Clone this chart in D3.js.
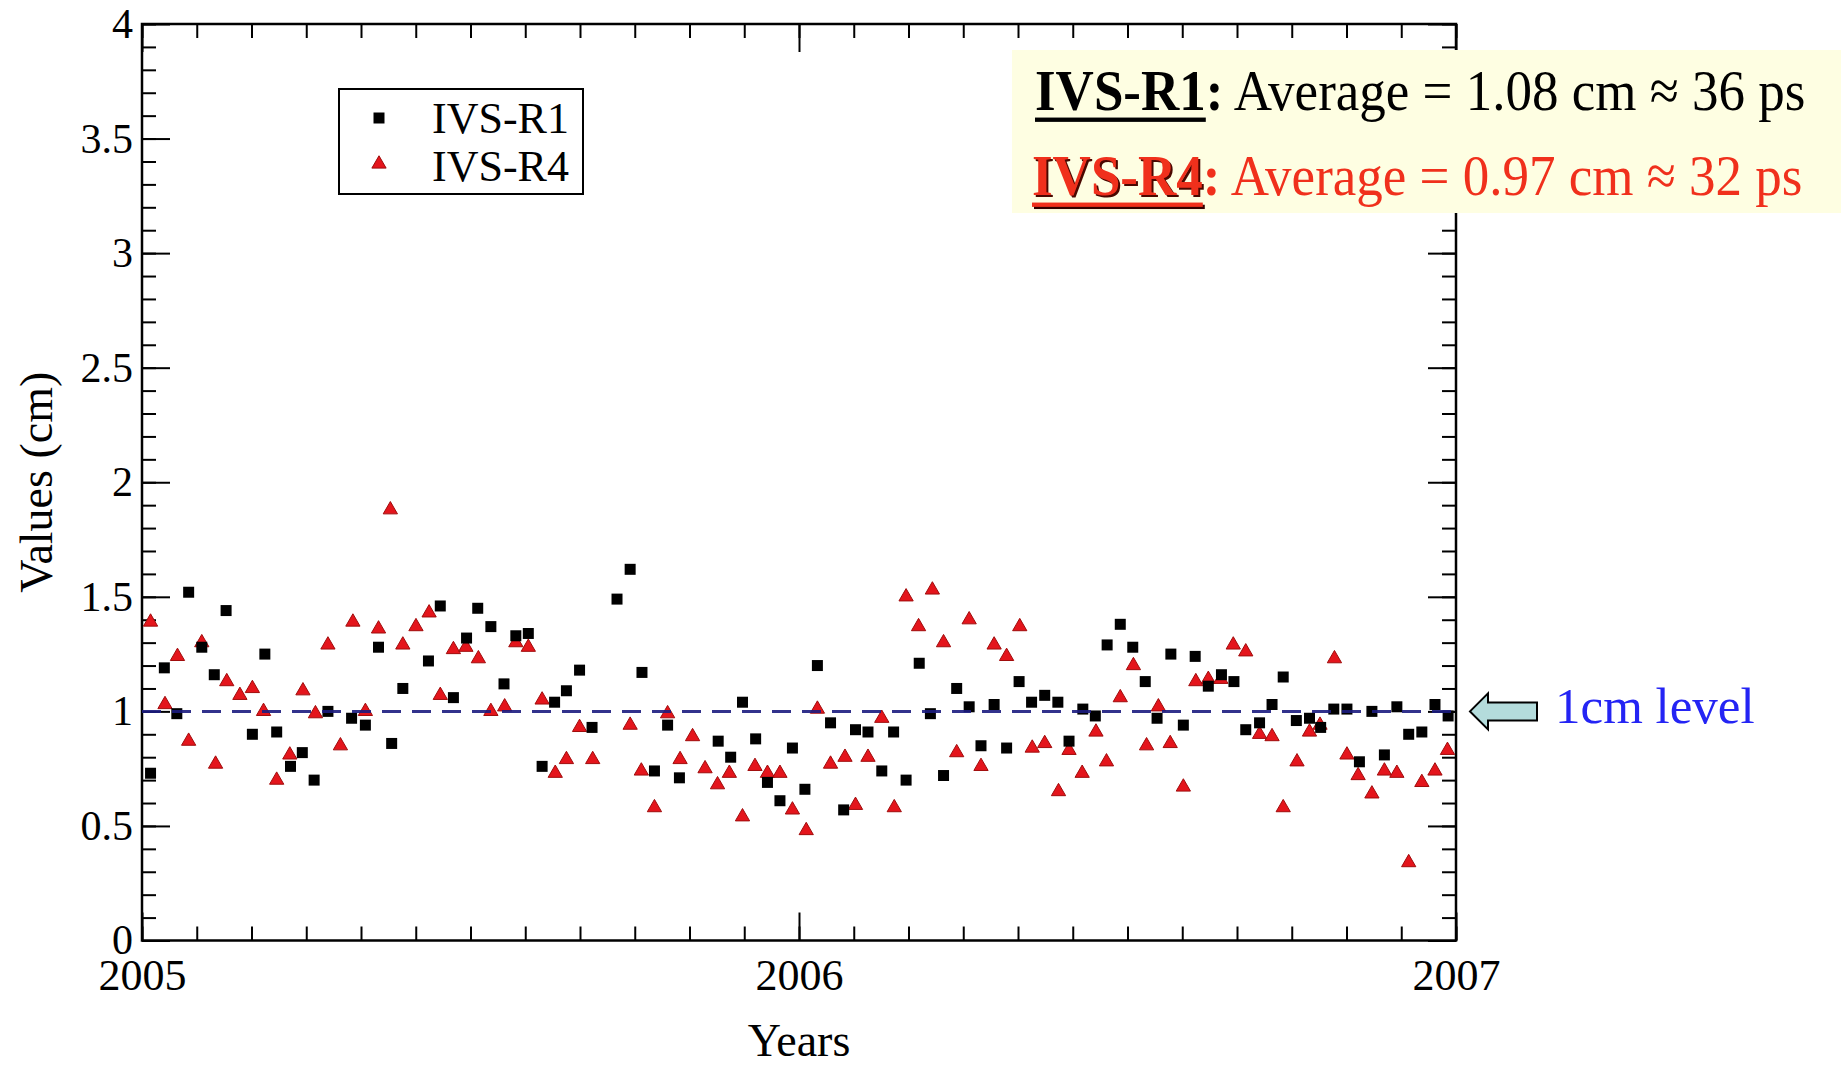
<!DOCTYPE html>
<html>
<head>
<meta charset="utf-8">
<script src="https://cdnjs.cloudflare.com/ajax/libs/d3/7.8.5/d3.min.js"></script>
<style>
  body { margin: 0; background: #fff; }
  text { font-family: "Liberation Serif", "Times New Roman", serif; }
</style>
</head>
<body>
<div id="chart"></div>
<script>
// series (decimal year, value in cm)
var r1Year = [2005.013, 2005.034, 2005.053, 2005.071, 2005.091, 2005.110, 2005.128, 2005.168, 2005.187, 2005.205,
  2005.226, 2005.244, 2005.262, 2005.283, 2005.319, 2005.340, 2005.360, 2005.380, 2005.397, 2005.436,
  2005.454, 2005.474, 2005.494, 2005.511, 2005.531, 2005.551, 2005.569, 2005.588, 2005.609, 2005.628,
  2005.646, 2005.666, 2005.685, 2005.723, 2005.743, 2005.761, 2005.780, 2005.800, 2005.818, 2005.877,
  2005.896, 2005.914, 2005.934, 2005.952, 2005.971, 2005.990, 2006.009, 2006.028, 2006.048, 2006.068,
  2006.086, 2006.105, 2006.126, 2006.144, 2006.163, 2006.183, 2006.200, 2006.220, 2006.240, 2006.259,
  2006.277, 2006.297, 2006.316, 2006.335, 2006.354, 2006.374, 2006.394, 2006.411, 2006.432, 2006.451,
  2006.469, 2006.489, 2006.508, 2006.527, 2006.545, 2006.566, 2006.585, 2006.603, 2006.623, 2006.643,
  2006.662, 2006.680, 2006.701, 2006.720, 2006.737, 2006.757, 2006.777, 2006.794, 2006.814, 2006.834,
  2006.853, 2006.872, 2006.891, 2006.910, 2006.928, 2006.948, 2006.968, 2006.988];
var r1Value = [0.73, 1.19, 0.99, 1.52, 1.28, 1.16, 1.44, 0.90, 1.25, 0.91,
  0.76, 0.82, 0.70, 1.00, 0.97, 0.94, 1.28, 0.86, 1.10, 1.22,
  1.46, 1.06, 1.32, 1.45, 1.37, 1.12, 1.33, 1.34, 0.76, 1.04,
  1.09, 1.18, 0.93, 1.49, 1.62, 1.17, 0.74, 0.94, 0.71, 0.87,
  0.80, 1.04, 0.88, 0.69, 0.61, 0.84, 0.66, 1.20, 0.95, 0.57,
  0.92, 0.91, 0.74, 0.91, 0.70, 1.21, 0.99, 0.72, 1.10, 1.02,
  0.85, 1.03, 0.84, 1.13, 1.04, 1.07, 1.04, 0.87, 1.01, 0.98,
  1.29, 1.38, 1.28, 1.13, 0.97, 1.25, 0.94, 1.24, 1.11, 1.16,
  1.13, 0.92, 0.95, 1.03, 1.15, 0.96, 0.97, 0.93, 1.01, 1.01,
  0.78, 1.00, 0.81, 1.02, 0.90, 0.91, 1.03, 0.98];

var r4Year = [2005.013, 2005.035, 2005.054, 2005.071, 2005.091, 2005.112, 2005.129, 2005.149, 2005.168, 2005.185,
  2005.205, 2005.225, 2005.245, 2005.264, 2005.283, 2005.302, 2005.321, 2005.340, 2005.360, 2005.378,
  2005.397, 2005.417, 2005.437, 2005.454, 2005.474, 2005.493, 2005.512, 2005.531, 2005.552, 2005.569,
  2005.588, 2005.609, 2005.629, 2005.646, 2005.666, 2005.686, 2005.743, 2005.760, 2005.780, 2005.800,
  2005.819, 2005.838, 2005.857, 2005.876, 2005.894, 2005.914, 2005.933, 2005.952, 2005.971, 2005.990,
  2006.011, 2006.028, 2006.048, 2006.070, 2006.086, 2006.105, 2006.126, 2006.145, 2006.163, 2006.182,
  2006.203, 2006.220, 2006.240, 2006.259, 2006.277, 2006.297, 2006.316, 2006.336, 2006.355, 2006.374,
  2006.395, 2006.411, 2006.431, 2006.452, 2006.468, 2006.489, 2006.509, 2006.529, 2006.547, 2006.565,
  2006.585, 2006.604, 2006.623, 2006.642, 2006.661, 2006.680, 2006.701, 2006.720, 2006.737, 2006.758,
  2006.777, 2006.793, 2006.815, 2006.834, 2006.851, 2006.872, 2006.891, 2006.910, 2006.928, 2006.948,
  2006.968, 2006.987];
var r4Value = [1.39, 1.03, 1.24, 0.87, 1.30, 0.77, 1.13, 1.07, 1.10, 1.00,
  0.70, 0.81, 1.09, 0.99, 1.29, 0.85, 1.39, 1.00, 1.36, 1.88,
  1.29, 1.37, 1.43, 1.07, 1.27, 1.28, 1.23, 1.00, 1.02, 1.30,
  1.28, 1.05, 0.73, 0.79, 0.93, 0.79, 0.94, 0.74, 0.58, 0.99,
  0.79, 0.89, 0.75, 0.68, 0.73, 0.54, 0.76, 0.73, 0.73, 0.57,
  0.48, 1.01, 0.77, 0.80, 0.59, 0.80, 0.97, 0.58, 1.50, 1.37,
  1.53, 1.30, 0.82, 1.40, 0.76, 1.29, 1.24, 1.37, 0.84, 0.86,
  0.65, 0.83, 0.73, 0.91, 0.78, 1.06, 1.20, 0.85, 1.02, 0.86,
  0.67, 1.13, 1.14, 1.14, 1.29, 1.26, 0.90, 0.89, 0.58, 0.78,
  0.91, 0.94, 1.23, 0.81, 0.72, 0.64, 0.74, 0.73, 0.34, 0.69,
  0.74, 0.83];

var seriesNames = ["IVS-R1", "IVS-R4"];
var seriesAverage = [1.08, 0.97];   // cm
var seriesPs = [36, 32];            // ps
var levelValue = 1;                 // 1cm reference line

var xMajorTicks = [2005, 2006, 2007];
var yMajorTicks = [0, 0.5, 1, 1.5, 2, 2.5, 3, 3.5, 4];

var svgWidth = 1841;
var svgHeight = 1069;

var chartMargin = { top: 24, right: 385, bottom: 128.5, left: 142 };
var chartWidth = svgWidth - chartMargin.left - chartMargin.right;
var chartHeight = svgHeight - chartMargin.top - chartMargin.bottom;

var svg = d3.select("#chart")
  .append("svg")
  .attr("width", svgWidth)
  .attr("height", svgHeight);

svg.append("rect").attr("width", svgWidth).attr("height", svgHeight).attr("fill", "#fff");

var chartGroup = svg.append("g")
  .attr("transform", `translate(${chartMargin.left},${chartMargin.top})`);

var xScale = d3.scaleLinear().domain([2005, 2007]).range([0, chartWidth]);
var yScale = d3.scaleLinear().domain([0, 4]).range([chartHeight, 0]);

// monthly minor ticks, 0.1 minor ticks
var xMinorTicks = d3.range(0, 25).map(i => 2005 + i / 12);
var yMinorTicks = d3.range(0, 41).map(i => i / 10);

function styleAxis(g) {
  g.select(".domain").remove();
  g.selectAll(".tick line").attr("stroke", "#000").attr("stroke-width", 2);
}

// bottom
chartGroup.append("g")
  .attr("transform", `translate(0,${chartHeight})`)
  .call(d3.axisBottom(xScale).tickValues(xMinorTicks).tickSize(-14).tickFormat(""))
  .call(styleAxis);
var xAxis = chartGroup.append("g")
  .attr("transform", `translate(0,${chartHeight})`)
  .call(d3.axisBottom(xScale).tickValues(xMajorTicks).tickSize(-28).tickFormat(d3.format("d")))
  .call(styleAxis);
xAxis.selectAll("text")
  .attr("y", 49)
  .attr("dy", null)
  .attr("font-size", 44)
  .attr("fill", "#000");

// top
chartGroup.append("g")
  .call(d3.axisTop(xScale).tickValues(xMinorTicks).tickSize(-14).tickFormat(""))
  .call(styleAxis);
chartGroup.append("g")
  .call(d3.axisTop(xScale).tickValues(xMajorTicks).tickSize(-28).tickFormat(""))
  .call(styleAxis);

// left
chartGroup.append("g")
  .call(d3.axisLeft(yScale).tickValues(yMinorTicks).tickSize(-14).tickFormat(""))
  .call(styleAxis);
var yAxis = chartGroup.append("g")
  .call(d3.axisLeft(yScale).tickValues(yMajorTicks).tickSize(-28).tickFormat(d3.format("")))
  .call(styleAxis);
yAxis.selectAll("text")
  .attr("x", -9)
  .attr("font-size", 42)
  .attr("fill", "#000");

// right
chartGroup.append("g")
  .attr("transform", `translate(${chartWidth},0)`)
  .call(d3.axisRight(yScale).tickValues(yMinorTicks).tickSize(-14).tickFormat(""))
  .call(styleAxis);
chartGroup.append("g")
  .attr("transform", `translate(${chartWidth},0)`)
  .call(d3.axisRight(yScale).tickValues(yMajorTicks).tickSize(-28).tickFormat(""))
  .call(styleAxis);

chartGroup.append("rect")
  .attr("width", chartWidth)
  .attr("height", chartHeight)
  .attr("fill", "none")
  .attr("stroke", "#000")
  .attr("stroke-width", 2.5);

// points
var r1Data = r1Year.map((y, i) => ({ year: y, value: r1Value[i] }));
var r4Data = r4Year.map((y, i) => ({ year: y, value: r4Value[i] }));

var squareSym = d3.symbol().type(d3.symbolSquare).size(121);
var triangleSym = d3.symbol().type(d3.symbolTriangle).size(88);

chartGroup.selectAll(".r4")
  .data(r4Data)
  .enter()
  .append("path")
  .attr("class", "r4")
  .attr("d", triangleSym)
  .attr("transform", d => `translate(${xScale(d.year)},${yScale(d.value)})`)
  .attr("fill", "#e4151c")
  .attr("stroke", "#a00c0c")
  .attr("stroke-width", 1);

chartGroup.selectAll(".r1")
  .data(r1Data)
  .enter()
  .append("path")
  .attr("class", "r1")
  .attr("d", squareSym)
  .attr("transform", d => `translate(${xScale(d.year)},${yScale(d.value)})`)
  .attr("fill", "#000");

// 1 cm dashed line
chartGroup.append("line")
  .attr("x1", 0)
  .attr("x2", chartWidth)
  .attr("y1", yScale(levelValue))
  .attr("y2", yScale(levelValue))
  .attr("stroke", "#1c1c80")
  .attr("stroke-width", 3)
  .attr("stroke-opacity", 0.9)
  .attr("stroke-dasharray", "19,11");

// axis titles
svg.append("text")
  .attr("x", chartMargin.left + chartWidth / 2)
  .attr("y", 1056)
  .attr("text-anchor", "middle")
  .attr("font-size", 46)
  .text("Years");

svg.append("text")
  .attr("transform", `translate(52,${chartMargin.top + chartHeight / 2}) rotate(-90)`)
  .attr("text-anchor", "middle")
  .attr("font-size", 46)
  .text("Values (cm)");

// legend
var legend = svg.append("g");
legend.append("rect")
  .attr("x", 339).attr("y", 89)
  .attr("width", 244).attr("height", 105)
  .attr("fill", "#fff")
  .attr("stroke", "#000")
  .attr("stroke-width", 2);
legend.append("path")
  .attr("d", d3.symbol().type(d3.symbolSquare).size(121))
  .attr("transform", "translate(379,118)")
  .attr("fill", "#000");
legend.append("path")
  .attr("d", triangleSym)
  .attr("transform", "translate(379,164)")
  .attr("fill", "#e4151c")
  .attr("stroke", "#a00c0c");
seriesNames.forEach(function(name, i) {
  legend.append("text")
    .attr("x", 432)
    .attr("y", 133 + i * 48)
    .attr("font-size", 44)
    .text(name);
});

// averages note
svg.append("rect")
  .attr("x", 1012).attr("y", 50)
  .attr("width", 829).attr("height", 163)
  .attr("fill", "#fefee2");

var noteColors = ["#000", "#f0301c"];
seriesNames.forEach(function(name, i) {
  var g = svg.append("g")
    .attr("transform", `translate(${1035 - i * 3},${110 + i * 85}) scale(1,1.08)`);
  var rest = ` Average = ${seriesAverage[i].toFixed(2)} cm \u2248 ${seriesPs[i]} ps`;

  if (i === 1) {
    g.append("text")
      .attr("x", 2).attr("y", 2)
      .attr("font-size", 53)
      .attr("font-weight", "bold")
      .attr("fill", "#4a0800")
      .text(name);
  }
  var t = g.append("text")
    .attr("font-size", 53)
    .attr("fill", noteColors[i]);
  var b = t.append("tspan").attr("font-weight", "bold").text(name);
  t.append("tspan").attr("font-weight", "bold").text(":");
  t.append("tspan").text(rest);

  var w = b.node().getComputedTextLength();
  if (i === 1) {
    g.append("rect")
      .attr("x", 2).attr("y", 9).attr("width", w).attr("height", 4)
      .attr("fill", "#300");
  }
  g.append("rect")
    .attr("x", 0).attr("y", 7).attr("width", w).attr("height", 4)
    .attr("fill", noteColors[i]);
});

// arrow + label for the 1cm level
var ay = chartMargin.top + yScale(levelValue);
svg.append("path")
  .attr("d", `M1470,${ay} L1488,${ay - 18} L1488,${ay - 9} L1537,${ay - 9} L1537,${ay + 9} L1488,${ay + 9} L1488,${ay + 18} Z`)
  .attr("fill", "#b4dcdc")
  .attr("stroke", "#000")
  .attr("stroke-width", 2);

svg.append("text")
  .attr("x", 1555)
  .attr("y", ay + 12)
  .attr("font-size", 51)
  .attr("fill", "#2424f4")
  .text("1cm level");
</script>
</body>
</html>
